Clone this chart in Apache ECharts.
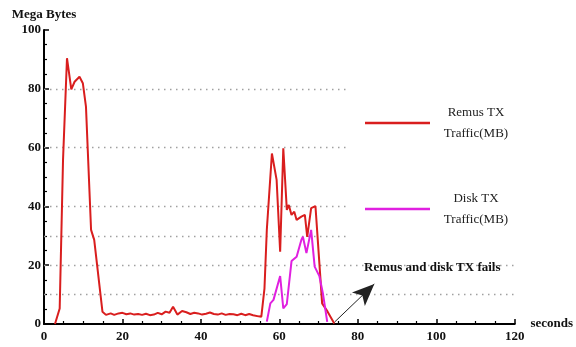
<!DOCTYPE html>
<html>
<head>
<meta charset="utf-8">
<script src="https://cdn.jsdelivr.net/npm/echarts@6/dist/echarts.min.js"></script>
<style>html,body{margin:0;padding:0;background:#fff}#c{width:576px;height:347px}</style>
</head>
<body>
<div id="c"></div>
<script>
// ---- data ----
const remusTime = [2.8,4.0,4.85,5.86,6.96,7.8,9.05,9.9,10.7,12.0,12.8,14.9,15.8,17.0,17.9,19,20,21,22,23,24,25,26,27,28,29,30,31,32,32.9,34.0,35.2,36.3,37.3,38.3,39.3,40.3,41.3,42.3,43.3,44.3,45.3,46.3,47.3,48.3,49.3,50.3,51.3,52.3,53.3,54.7,55.4,56.2,56.8,58.1,59.3,60.2,61.0,61.9,62.4,63.1,63.8,64.4,65.6,66.5,67.1,68.1,69.2,70.9,72.3,74.0];
const remusMB   = [0,5.3,55.8,90.4,79.8,82.4,84.1,81.9,73.9,32,28.6,4.2,3.1,3.6,3.1,3.6,3.8,3.3,3.6,3.2,3.4,3.1,3.5,3.0,3.2,3.8,3.3,4.2,3.8,5.9,3.2,4.4,4.0,3.4,3.8,3.6,3.2,3.5,3.9,3.4,3.2,3.6,3.1,3.4,3.3,3.0,3.5,3.0,3.4,3.0,2.6,2.5,12,32,58,49,24.6,59.8,38.8,40.5,37.1,38.2,35.4,36.5,37.1,29.6,39.4,40.1,7,4.2,0.2];
const diskTime  = [56.8,57.7,58.5,60.2,61.0,61.9,63.1,64.4,65.6,66.0,66.9,68.1,69.0,70.2,71.1,72.2];
const diskMB    = [0.8,7,8.2,16.3,5.3,6.8,21.4,22.9,28.6,29.7,24.1,32,19.5,16.3,10.4,0.7];
const gridValues = [10,20,30,40,60,80];
const seriesNames = ['Remus TX\nTraffic(MB)', 'Disk TX\nTraffic(MB)'];
const annotationText = 'Remus and disk TX fails';
const arrowFrom = [74.1, 0.7];
const arrowTo = [84.2, 13.6];

// gridlines above 20 stop before the legend area
const gridEndShort = 77.4, gridEndFull = 120;

const pairs = (xs, ys) => xs.map((x, i) => [x, ys[i]]);
const serif = 'Liberation Serif';

const chart = echarts.init(document.getElementById('c'), null, {renderer: 'canvas'});
chart.setOption({
  animation: false,
  backgroundColor: '#fff',
  grid: {left: 44, right: 54.5, top: 30, bottom: 23, containLabel: false},
  xAxis: {
    type: 'value', min: 0, max: 120, interval: 20,
    name: 'seconds', nameLocation: 'end', nameGap: 11,
    nameTextStyle: {fontFamily: serif, fontWeight: 'bold', fontSize: 13, color: '#111', verticalAlign: 'middle', padding: [6, 0, 0, 0]},
    axisLine: {show: true, lineStyle: {color: '#000', width: 2}},
    axisTick: {show: true, inside: true, length: 5, lineStyle: {color: '#000', width: 1.5}},
    minorTick: {show: true, splitNumber: 4, length: 3, lineStyle: {color: '#000', width: 1.2}},
    axisLabel: {fontFamily: serif, fontWeight: 'bold', fontSize: 13, color: '#111', margin: 6},
    splitLine: {show: false}
  },
  yAxis: {
    type: 'value', min: 0, max: 100, interval: 20,
    name: 'Mega Bytes', nameLocation: 'end', nameGap: 9,
    nameTextStyle: {fontFamily: serif, fontWeight: 'bold', fontSize: 13, color: '#111'},
    axisLine: {show: true, lineStyle: {color: '#000', width: 2}},
    axisTick: {show: true, inside: true, length: 5, lineStyle: {color: '#000', width: 1.5}},
    minorTick: {show: true, splitNumber: 4, length: 3, lineStyle: {color: '#000', width: 1.2}},
    axisLabel: {fontFamily: serif, fontWeight: 'bold', fontSize: 13, color: '#111', margin: 3},
    splitLine: {show: false}
  },
  legend: {
    orient: 'vertical', left: 352, top: 85, z: 20,
    padding: [21, 65, 14, 13],
    itemWidth: 65, itemHeight: 2.5, itemGap: 52,
    icon: 'rect',
    data: seriesNames,
    formatter: name => name.split('\n').map(s => '{a|' + s + '}').join('\n'),
    textStyle: {
      rich: {a: {fontFamily: serif, fontSize: 13, color: '#222', width: 82, align: 'center', lineHeight: 21}}
    }
  },
  graphic: [{
    type: 'text', x: 364, y: 268, z: 30,
    style: {text: annotationText, font: 'bold 13px "Liberation Serif"', fill: '#111', verticalAlign: 'middle'}
  }],
  series: [
    {
      name: seriesNames[0], type: 'line', data: pairs(remusTime, remusMB),
      showSymbol: false, symbol: 'none', z: 3,
      lineStyle: {color: '#d91e1e', width: 2}, itemStyle: {color: '#d91e1e'},
      markLine: {
        silent: true, z: 1, symbol: ['none', 'none'], label: {show: false},
        lineStyle: {color: '#a0a0a0', type: [1.5, 4.5], width: 1.3},
        data: gridValues.map(v => [{coord: [0, v]}, {coord: [v <= 20 ? gridEndFull : gridEndShort, v]}])
      }
    },
    {
      name: seriesNames[1], type: 'line', data: pairs(diskTime, diskMB),
      showSymbol: false, symbol: 'none', z: 4,
      lineStyle: {color: '#e020e0', width: 2}, itemStyle: {color: '#e020e0'},
      markLine: {
        silent: true, z: 5, symbol: ['none', 'arrow'], symbolSize: [14, 22], label: {show: false},
        lineStyle: {color: '#222', type: 'solid', width: 1},
        data: [[{coord: arrowFrom}, {coord: arrowTo}]]
      }
    }
  ]
});
</script>
</body>
</html>
